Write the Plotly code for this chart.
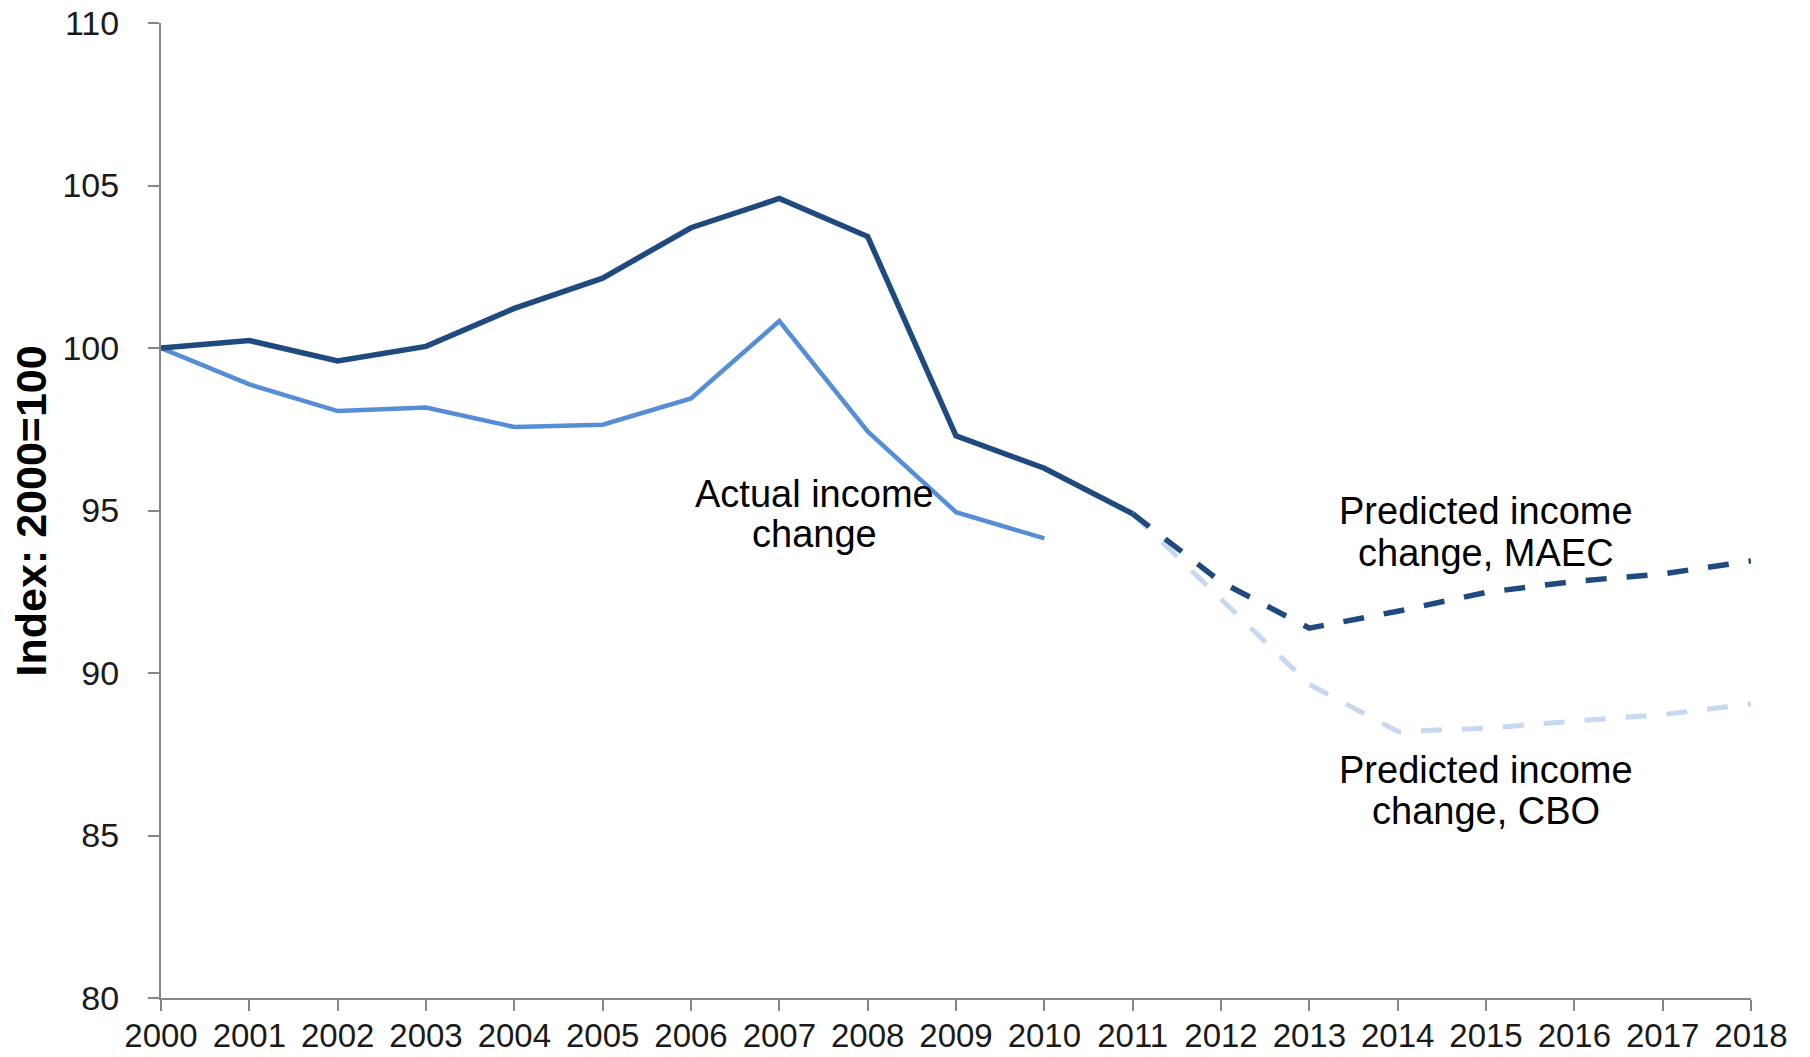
import plotly.graph_objects as go

# ---- data ----
years_actual_dark = list(range(2000, 2012))
actual_dark = [100.0, 100.23, 99.6, 100.05, 101.22, 102.15, 103.7, 104.6, 103.43, 97.3, 96.3, 94.9]

years_actual_light = list(range(2000, 2011))
actual_light = [100.0, 98.88, 98.06, 98.17, 97.57, 97.64, 98.45, 100.83, 97.43, 94.95, 94.14]

years_pred = list(range(2011, 2019))
pred_maec = [94.9, 92.8, 91.38, 91.9, 92.48, 92.82, 93.05, 93.45]
pred_cbo = [94.9, 92.3, 89.65, 88.2, 88.3, 88.52, 88.72, 89.05]

x_ticks = list(range(2000, 2019))
y_ticks = [80, 85, 90, 95, 100, 105, 110]

DARK = "#1F4A80"
LIGHT = "#558ED5"
PALE = "#C6D9F1"
FONT = "Liberation Sans, Arial, sans-serif"

fig = go.Figure()
fig.add_trace(go.Scatter(x=years_pred, y=pred_cbo, mode="lines", name="Predicted income change, CBO",
                         line=dict(color=PALE, width=5, dash="21px,20px")))
fig.add_trace(go.Scatter(x=years_actual_light, y=actual_light, mode="lines", name="Actual income change (light)",
                         line=dict(color=LIGHT, width=4.5)))
fig.add_trace(go.Scatter(x=years_pred, y=pred_maec, mode="lines", name="Predicted income change, MAEC",
                         line=dict(color=DARK, width=5.5, dash="21px,20px")))
fig.add_trace(go.Scatter(x=years_actual_dark, y=actual_dark, mode="lines", name="Actual income change (dark)",
                         line=dict(color=DARK, width=5.5)))

ann_font = dict(family=FONT, size=38, color="#000000")
labels = [
    (2007.40, 95.51, "Actual income"),
    (2007.40, 94.28, "change"),
    (2015.0, 94.98, "Predicted income"),
    (2015.0, 93.69, "change, MAEC"),
    (2015.0, 87.02, "Predicted income"),
    (2015.0, 85.74, "change, CBO"),
]
for x, y, t in labels:
    fig.add_annotation(x=x, y=y, xref="x", yref="y", text=t, showarrow=False,
                       xanchor="center", yanchor="middle", font=ann_font)

fig.add_annotation(x=-0.0818, y=0.5, xref="paper", yref="paper", text="<b>Index: 2000=100</b>",
                   textangle=-90, showarrow=False, xanchor="center", yanchor="middle",
                   font=dict(family=FONT, size=43, color="#000000"))

axis_common = dict(showgrid=False, zeroline=False, showline=True, linecolor="#868686", linewidth=2,
                   ticks="outside", ticklen=11, tickwidth=2, tickcolor="#868686", automargin=False)

fig.update_layout(
    width=1810, height=1057,
    margin=dict(l=161, r=59, t=23, b=59),
    paper_bgcolor="white", plot_bgcolor="white",
    showlegend=False,
    xaxis=dict(range=[2000, 2018], tickvals=x_ticks, ticktext=[str(v) for v in x_ticks],
               ticklabelstandoff=-4, tickfont=dict(family=FONT, size=33, color="#1a1a1a"), **axis_common),
    yaxis=dict(range=[80, 110], tickvals=y_ticks, ticktext=[str(v) for v in y_ticks],
               ticklabelstandoff=22, tickfont=dict(family=FONT, size=34, color="#1a1a1a"), **axis_common),
)

fig.write_html("out.html")
